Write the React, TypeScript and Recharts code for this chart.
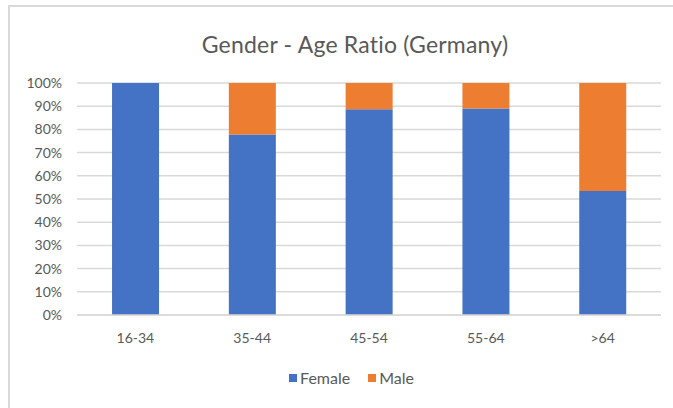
import { BarChart, Bar, XAxis, YAxis, CartesianGrid } from 'recharts'

const ageGroups = ['16-34', '35-44', '45-54', '55-64', '>64']
const femaleShare = [100, 77.8, 88.7, 89.0, 53.4]
const maleShare = [0, 22.2, 11.3, 11.0, 46.6]
const yTicks = [0, 10, 20, 30, 40, 50, 60, 70, 80, 90, 100]

const series = [
  { key: 'female', name: 'Female', color: '#4472C4' },
  { key: 'male', name: 'Male', color: '#ED7D31' },
]

const FONT = 'Lato, "Liberation Sans", sans-serif'
const TEXT = '#595959'
const GRID = '#D9D9D9'

const chartData = ageGroups.map((g, i) => ({
  group: g,
  female: femaleShare[i],
  male: maleShare[i],
}))

export default function App() {
  return (
    <div style={{ position: 'absolute', left: 0, top: 0, width: 673, height: 408, background: '#fff', fontFamily: FONT, overflow: 'hidden' }}>
      <div style={{ position: 'absolute', left: 8, top: 5, width: 680, height: 420, borderTop: `2px solid ${GRID}`, borderLeft: `2px solid ${GRID}` }} />
      <div style={{ position: 'absolute', left: 0, width: 710, top: 29, textAlign: 'center', fontSize: 23, letterSpacing: 0.2, color: TEXT, lineHeight: '30px' }}>
        Gender - Age Ratio (Germany)
      </div>
      <div style={{ position: 'absolute', left: 0, top: 0 }}>
        <BarChart width={673} height={408} data={chartData} barCategoryGap="30%" margin={{ top: 83, right: 12, left: 0, bottom: 63 }}>
          <CartesianGrid vertical={false} stroke={GRID} strokeWidth={1.5} />
          <XAxis
            dataKey="group"
            axisLine={{ stroke: GRID, strokeWidth: 1.5 }}
            tickLine={false}
            tickMargin={12}
            tick={{ fontSize: 14, fill: TEXT, fontFamily: FONT }}
          />
          <YAxis
            width={77}
            domain={[0, 100]}
            ticks={yTicks}
            interval={0}
            axisLine={false}
            tickLine={false}
            tickMargin={9}
            tickFormatter={(v: number) => `${v}%`}
            tick={{ fontSize: 14, fill: TEXT, fontFamily: FONT }}
          />
          {series.map(s => (
            <Bar key={s.key} dataKey={s.key} name={s.name} stackId="a" fill={s.color} isAnimationActive={false} />
          ))}
        </BarChart>
      </div>
      <div style={{ position: 'absolute', left: 0, width: 703, top: 368, display: 'flex', justifyContent: 'center', gap: 18, fontSize: 16, color: TEXT }}>
        {series.map(s => (
          <div key={s.key} style={{ display: 'flex', alignItems: 'center' }}>
            <span style={{ display: 'inline-block', width: 8, height: 8, background: s.color, marginRight: 3 }} />
            <span>{s.name}</span>
          </div>
        ))}
      </div>
    </div>
  )
}
